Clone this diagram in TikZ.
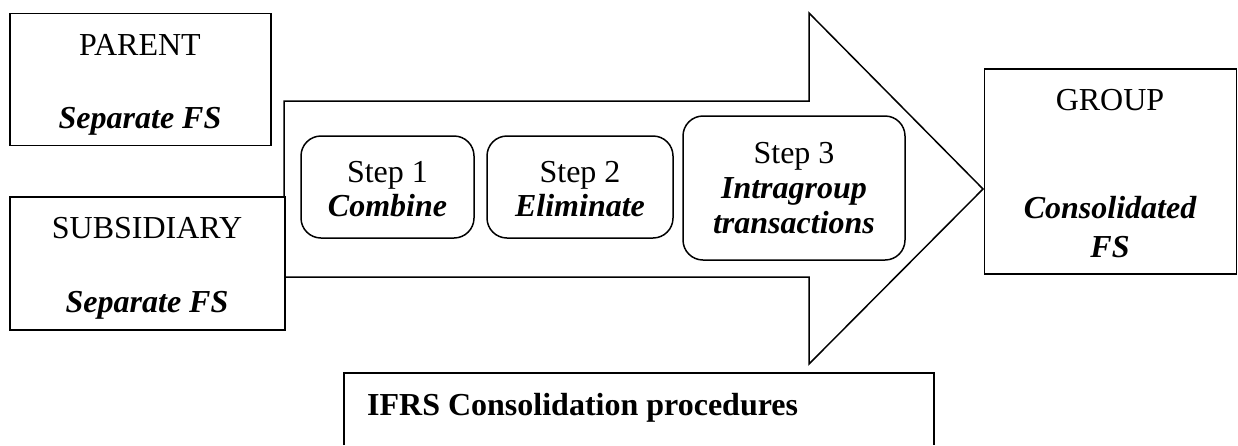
\documentclass[tikz,border=0pt]{standalone}
\usepackage{fontspec}
\setmainfont{Liberation Serif}
\begin{document}
\begin{tikzpicture}[x=1pt,y=-1pt,line join=miter,
  box/.style={draw,line width=1.8pt,inner sep=0pt},
  stepbox/.style={draw,line width=1.5pt,rounded corners=20pt,inner sep=0pt},
  flow/.style={draw,line width=1.5pt,fill=white},
  txt/.style={anchor=base,inner sep=0pt,font=\fontsize{32}{38}\selectfont},
  emph/.style={txt,font=\fontsize{32}{38}\selectfont\bfseries\itshape}]
\useasboundingbox (0,0) rectangle (1238,445);

% large process arrow
\path[flow] (284,101) -- (809,101) -- (809,13) -- (983,189) -- (809,364)
  -- (809,277) -- (284,277) -- cycle;

% input entities
\node[box,minimum width=261pt,minimum height=132pt] (parent) at (140.5,79.5) {};
\node[txt] (parentT) at (140,55) {PARENT};
\node[emph] (parentFS) at (140,128) {Separate FS};

\node[box,fill=white,minimum width=275pt,minimum height=133pt] (sub) at (147.5,263.5) {};
\node[txt] (subT) at (147,238) {SUBSIDIARY};
\node[emph] (subFS) at (147,312) {Separate FS};

% procedure steps
\node[stepbox,minimum width=173pt,minimum height=102pt] (s1) at (387.5,187) {};
\node[txt] (s1a) at (387.5,182) {Step 1};
\node[emph] (s1b) at (387.5,216) {Combine};

\node[stepbox,minimum width=186pt,minimum height=102pt] (s2) at (580,187) {};
\node[txt] (s2a) at (580,182) {Step 2};
\node[emph] (s2b) at (580,216) {Eliminate};

\node[stepbox,minimum width=222pt,minimum height=144pt] (s3) at (794,188) {};
\node[txt] (s3a) at (794,163) {Step 3};
\node[emph] (s3b) at (794,198) {Intragroup};
\node[emph] (s3c) at (794,233) {transactions};

% resulting group
\node[box,minimum width=252pt,minimum height=205pt] (grp) at (1110.5,171.5) {};
\node[txt] (grpT) at (1110,110) {GROUP};
\node[emph] (grpA) at (1110,218) {Consolidated};
\node[emph] (grpB) at (1110,257) {FS};

% caption panel, open at the bottom
\coordinate (capL) at (344,445);
\coordinate (capR) at (934,445);
\draw[line width=1.8pt] (capL) -- (344,373) -- (934,373) -- (capR);
\node[txt,anchor=base west,font=\fontsize{32}{38}\selectfont\bfseries] (cap) at (367,415) {IFRS Consolidation procedures};
\end{tikzpicture}
\end{document}
